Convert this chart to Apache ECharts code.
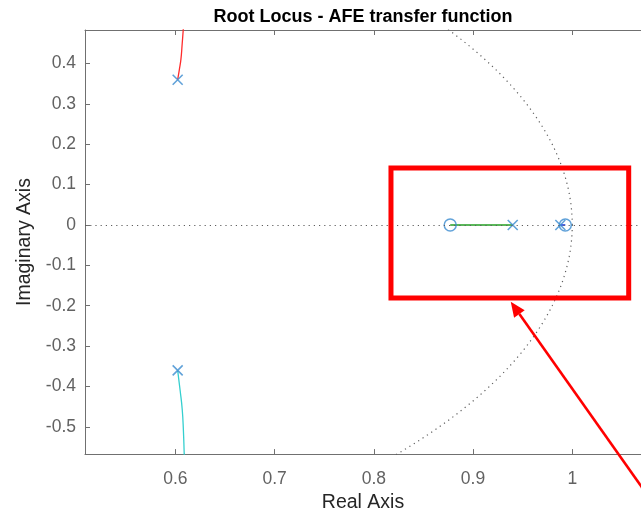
<!DOCTYPE html>
<html>
<head>
<meta charset="utf-8">
<script src="https://cdn.jsdelivr.net/npm/echarts@6/dist/echarts.min.js"></script>
<style>
  html, body { margin: 0; padding: 0; background: #ffffff; }
  #chart { width: 641px; height: 518px; }
</style>
</head>
<body>
<div id="chart"></div>
<script>
// Tick positions on both axes
const realTicks = [0.6, 0.7, 0.8, 0.9, 1];
const imagTicks = [-0.5, -0.4, -0.3, -0.2, -0.1, 0, 0.1, 0.2, 0.3, 0.4];

// Visible window of the z-plane
const realRange = [0.5089, 1.0693];
const imagRange = [-0.5675, 0.4831];

// Open-loop poles (x) and zeros (o)
const poleRe = [0.6023, 0.6023, 0.940, 0.988];
const poleIm = [0.360, -0.360, 0, 0];
const zeroRe = [0.877, 0.993];
const zeroIm = [0, 0];

// Root-locus branches
const upperRe = [0.6023, 0.6040, 0.6056, 0.6068, 0.6079, 0.6084];
const upperIm = [0.360, 0.385, 0.411, 0.447, 0.483, 0.500];
const lowerRe = [0.6023, 0.6048, 0.6069, 0.6081, 0.6089, 0.6091];
const lowerIm = [-0.360, -0.410, -0.457, -0.510, -0.567, -0.580];
const realBranchRe = [0.940, 0.877];
const realBranchIm = [0, 0];
const shortBranchRe = [0.988, 0.993];
const shortBranchIm = [0, 0];

// Highlight box and arrow, in axis units
const boxCorners = [[0.8173, 0.141], [1.0569, -0.1807]];
const arrowTip = [0.938, -0.190];
const arrowTail = [1.098, -0.746];

const FONT = '"Liberation Sans", Arial, Helvetica, sans-serif';
const markerColor = '#3a8bd0';

function pairs(xs, ys) { return xs.map((x, i) => [x, ys[i]]); }

// Stability boundary |z| = 1
const unitCircle = [];
for (let deg = 0; deg <= 360; deg += 0.5) {
  const a = deg * Math.PI / 180;
  unitCircle.push([Math.cos(a), Math.sin(a)]);
}

const chart = echarts.init(document.getElementById('chart'), null, { renderer: 'canvas' });

const axisLineStyle = { color: '#707070', width: 1 };
const dotted = { color: '#5e5e5e', width: 1.2, type: [1.2, 4] };

chart.setOption({
  animation: false,
  backgroundColor: '#ffffff',
  grid: { left: 85, right: -10, top: 30, bottom: 52, containLabel: false },
  xAxis: [{
    type: 'value',
    min: realRange[0], max: realRange[1],
    position: 'bottom',
    name: 'Real Axis',
    nameLocation: 'middle',
    nameGap: 35,
    nameTextStyle: { fontFamily: FONT, fontSize: 19.5, color: '#262626' },
    axisLine: { show: true, onZero: false, lineStyle: axisLineStyle },
    axisTick: { show: true, inside: true, length: 5, customValues: realTicks, lineStyle: axisLineStyle },
    axisLabel: { show: true, customValues: realTicks, margin: 16, fontFamily: FONT, fontSize: 17.5, color: '#626262' },
    splitLine: { show: false }
  }, {
    type: 'value',
    min: realRange[0], max: realRange[1],
    position: 'top',
    axisLine: { show: true, onZero: false, lineStyle: axisLineStyle },
    axisTick: { show: true, inside: true, length: 5, customValues: realTicks, lineStyle: axisLineStyle },
    axisLabel: { show: false },
    splitLine: { show: false }
  }],
  yAxis: {
    type: 'value',
    min: imagRange[0], max: imagRange[1],
    name: 'Imaginary Axis',
    nameLocation: 'middle',
    nameGap: 38,
    nameRotate: 90,
    nameTextStyle: { fontFamily: FONT, fontSize: 19.5, color: '#262626' },
    axisLine: { show: true, onZero: false, lineStyle: axisLineStyle },
    axisTick: { show: true, inside: true, length: 5, customValues: imagTicks, lineStyle: axisLineStyle },
    axisLabel: { show: true, customValues: imagTicks, margin: 9, fontFamily: FONT, fontSize: 17.5, color: '#626262' },
    splitLine: { show: false }
  },
  series: [
    {
      name: 'unit circle', type: 'line', data: unitCircle, showSymbol: false, silent: true,
      lineStyle: dotted, z: 1,
      markLine: {
        silent: true, symbol: 'none', label: { show: false },
        lineStyle: dotted,
        data: [{ yAxis: 0 }]
      }
    },
    { name: 'branch 1', type: 'line', data: pairs(upperRe, upperIm), showSymbol: false, smooth: true,
      lineStyle: { color: '#ff2b2b', width: 1.3 }, z: 2 },
    { name: 'branch 2', type: 'line', data: pairs(lowerRe, lowerIm), showSymbol: false, smooth: true,
      lineStyle: { color: '#35cfcf', width: 1.3 }, z: 2 },
    { name: 'branch 3', type: 'line', data: pairs(realBranchRe, realBranchIm), showSymbol: false,
      lineStyle: { color: '#22a022', width: 1.5 }, z: 2 },
    { name: 'branch 4', type: 'line', data: pairs(shortBranchRe, shortBranchIm), showSymbol: false,
      lineStyle: { color: '#1530e0', width: 1.6 }, z: 2 },
    { name: 'poles', type: 'scatter', data: pairs(poleRe, poleIm),
      symbol: 'path://M0,0L10,10M10,0L0,10', symbolSize: 10,
      itemStyle: { color: 'rgba(0,0,0,0)', borderColor: markerColor, borderWidth: 1.6 }, z: 3 },
    { name: 'zeros', type: 'scatter', data: pairs(zeroRe, zeroIm),
      symbol: 'circle', symbolSize: 12,
      itemStyle: { color: 'rgba(0,0,0,0)', borderColor: markerColor, borderWidth: 1.5 }, z: 3 }
  ]
});

// Title centred over the plot area, plus the red highlight box and arrow
function px(p) { return chart.convertToPixel({ gridIndex: 0 }, p); }
const gridRect = chart.getModel().getComponent('grid', 0).coordinateSystem.getRect();

const c0 = px(boxCorners[0]);
const c1 = px(boxCorners[1]);
const tip = px(arrowTip);
const tail = px(arrowTail);
const dx = tip[0] - tail[0], dy = tip[1] - tail[1];
const len = Math.sqrt(dx * dx + dy * dy);
const ux = dx / len, uy = dy / len;
const headLen = 15, headHalf = 6.5;
const base = [tip[0] - ux * headLen, tip[1] - uy * headLen];

chart.setOption({
  graphic: [
    {
      type: 'text', x: gridRect.x + gridRect.width / 2, y: 17,
      style: { text: 'Root Locus - AFE transfer function', fontFamily: FONT, fontSize: 18, fontWeight: 'bold',
               fill: '#000000', align: 'center', verticalAlign: 'middle' }
    },
    {
      type: 'rect', z: 100,
      shape: { x: c0[0], y: c0[1], width: c1[0] - c0[0], height: c1[1] - c0[1] },
      style: { fill: null, stroke: '#ff0000', lineWidth: 5 }
    },
    {
      type: 'line', z: 100,
      shape: { x1: tail[0], y1: tail[1], x2: base[0], y2: base[1] },
      style: { stroke: '#ff0000', lineWidth: 2.6 }
    },
    {
      type: 'polygon', z: 100,
      shape: { points: [tip, [base[0] - uy * headHalf, base[1] + ux * headHalf], [base[0] + uy * headHalf, base[1] - ux * headHalf]] },
      style: { fill: '#ff0000' }
    }
  ]
});
</script>
</body>
</html>
